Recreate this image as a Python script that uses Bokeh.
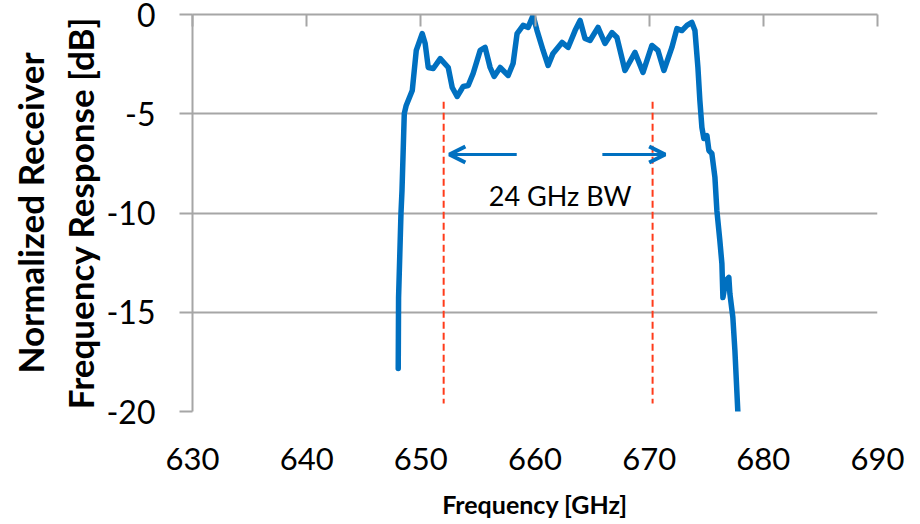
from bokeh.plotting import figure
from bokeh.models import LinearAxis, Grid, FixedTicker, Arrow, OpenHead, Label, ColumnDataSource
from bokeh.embed import file_html
from bokeh.resources import INLINE

# Measured receiver response (frequency in GHz, normalized response in dB)
freq_ghz = [648.02, 648.05, 648.26, 648.35, 648.55, 648.72, 649.25, 649.60, 650.12, 650.38,
            650.65, 651.09, 651.70, 652.40, 652.75, 653.18, 653.71, 654.15, 654.58, 655.20,
            655.63, 656.07, 656.42, 656.95, 657.65, 658.08, 658.43, 658.96, 659.40, 659.83,
            660.18, 660.71, 661.15, 661.58, 662.37, 662.90, 663.51, 663.95, 664.38, 664.82,
            665.52, 666.13, 666.75, 667.18, 667.88, 668.76, 669.46, 670.24, 670.77, 671.29,
            671.99, 672.43, 672.87, 673.31, 673.74, 674.01, 674.27, 674.44, 674.62, 674.79,
            675.06, 675.23, 675.49, 675.76, 675.93, 676.19, 676.37, 676.46, 676.72, 676.98,
            677.07, 677.33, 677.51, 677.77]
response_db = [-17.83, -14.26, -10.03, -8.87, -4.99, -4.58, -3.83, -1.81, -0.96, -1.46,
               -2.67, -2.72, -2.22, -2.67, -3.68, -4.13, -3.63, -3.58, -2.97, -1.81,
               -1.66, -2.67, -3.12, -2.67, -3.07, -2.47, -0.96, -0.55, -0.65, -0.05,
               -0.81, -1.81, -2.57, -1.96, -1.41, -1.66, -0.81, -0.30, -1.21, -1.31,
               -0.65, -1.46, -0.91, -1.16, -2.82, -1.91, -2.92, -1.56, -1.81, -2.82,
               -1.66, -0.71, -0.81, -0.55, -0.40, -0.81, -2.67, -4.33, -5.69, -6.25,
               -6.10, -6.85, -7.00, -8.21, -9.87, -11.39, -12.54, -14.26, -13.40, -13.25,
               -14.06, -15.26, -16.93, -20.05]

# Bandwidth markers and annotation
bw_edges_ghz = [652.0, 670.3]
bw_marker_db = [-4.4, -19.6]
arrow_left_ghz = [658.4, 652.5]
arrow_right_ghz = [665.9, 671.4]
arrow_db = -7.05
bw_text = "24 GHz BW"
bw_text_pos = (662.2, -9.1)

x_ticks = [630, 640, 650, 660, 670, 680, 690]
y_ticks = [-20, -15, -10, -5, 0]
y_tick_labels = {-20: "-20", -15: "-15", -10: "-10", -5: "-5", 0: "0"}

GRID = "#a6a6a6"
BLUE = "#0070C0"
RED = "#FF3B1A"
FONT = "Lato"

p = figure(width=920, height=524, x_range=(630, 690), y_range=(-20, 0),
           x_axis_type=None, y_axis_type=None,
           output_backend="svg", toolbar_location=None,
           min_border_left=192, min_border_right=43, min_border_top=14, min_border_bottom=113)
p.outline_line_color = None
p.background_fill_color = "white"
p.border_fill_color = "white"

# Bottom axis: labels only
xb = LinearAxis(ticker=FixedTicker(ticks=x_ticks))
xb.axis_line_color = None
xb.major_tick_line_color = None
xb.minor_tick_line_color = None
xb.major_label_text_font = FONT
xb.major_label_text_font_size = "31px"
xb.major_label_text_color = "black"
xb.major_label_standoff = 30
xb.axis_label = "Frequency [GHz]"
xb.axis_label_text_font = FONT
xb.axis_label_text_font_style = "bold"
xb.axis_label_text_font_size = "25px"
xb.axis_label_text_color = "black"
xb.axis_label_standoff = 16
p.add_layout(xb, "below")

# Top axis: the zero line with inward ticks
xt = LinearAxis(ticker=FixedTicker(ticks=x_ticks))
xt.axis_line_color = GRID
xt.axis_line_width = 2
xt.major_tick_line_color = GRID
xt.major_tick_line_width = 2
xt.major_tick_in = 12
xt.major_tick_out = 0
xt.minor_tick_line_color = None
xt.major_label_text_font_size = "0px"
xt.major_label_text_color = None
xt.major_label_standoff = 0
p.add_layout(xt, "above")

# Left axis
yl = LinearAxis(ticker=FixedTicker(ticks=y_ticks))
yl.axis_line_color = GRID
yl.axis_line_width = 2
yl.major_tick_line_color = GRID
yl.major_tick_line_width = 2
yl.major_tick_out = 13
yl.major_tick_in = 0
yl.minor_tick_line_color = None
yl.major_label_overrides = y_tick_labels
yl.major_label_text_font = FONT
yl.major_label_text_font_size = "32px"
yl.major_label_text_color = "black"
yl.major_label_standoff = 24
yl.axis_label = "Normalized Receiver\nFrequency Response [dB]"
yl.axis_label_text_font = FONT
yl.axis_label_text_font_style = "bold"
yl.axis_label_text_font_size = "35px"
yl.axis_label_text_color = "black"
yl.axis_label_standoff = 2
p.add_layout(yl, "left")

grid = Grid(dimension=1, ticker=yl.ticker, grid_line_color=GRID, grid_line_width=2)
p.add_layout(grid)

# Bandwidth edges
for f in bw_edges_ghz:
    p.line([f, f], bw_marker_db, line_color=RED, line_width=2, line_dash="7 4")

# Response trace
src = ColumnDataSource(dict(f=freq_ghz, r=response_db))
p.line("f", "r", source=src, line_color=BLUE, line_width=5.5, line_join="round", line_cap="round")

# Bandwidth arrows
for xs in (arrow_left_ghz, arrow_right_ghz):
    p.add_layout(Arrow(x_start=xs[0], y_start=arrow_db, x_end=xs[1], y_end=arrow_db,
                       line_color=BLUE, line_width=3,
                       end=OpenHead(size=16, line_color=BLUE, line_width=4)))

p.add_layout(Label(x=bw_text_pos[0], y=bw_text_pos[1], text=bw_text,
                   text_align="center", text_baseline="middle",
                   text_font=FONT, text_font_size="27px", text_color="black"))

open("out.html", "w").write(file_html(p, INLINE))
